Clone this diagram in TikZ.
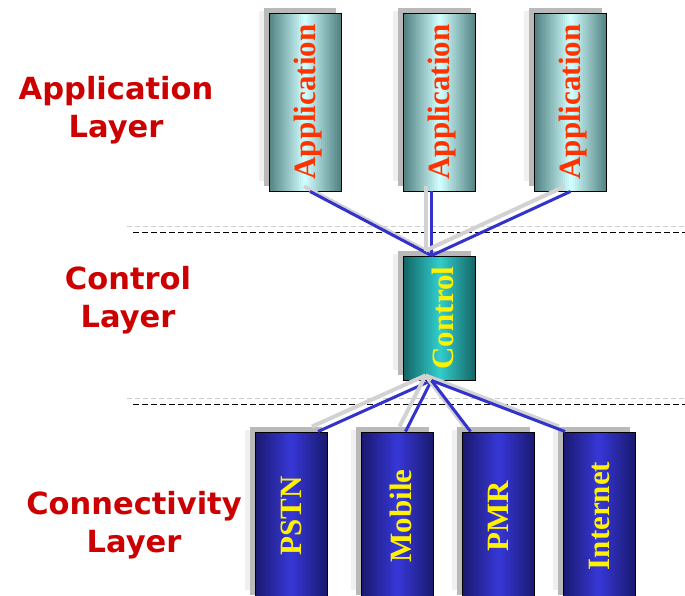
\documentclass[tikz,border=0pt]{standalone}
\usepackage{fontspec}
\setmainfont{Liberation Serif}
\newfontfamily\layerfont{DejaVu Sans}
\usetikzlibrary{positioning,calc,backgrounds}

\definecolor{layerred}{RGB}{204,0,0}
\definecolor{apptext}{RGB}{255,51,0}
\definecolor{linkblue}{RGB}{51,51,204}
\definecolor{appedge}{RGB}{80,128,128}
\definecolor{appmid}{RGB}{210,255,255}
\definecolor{ctrledge}{RGB}{20,100,100}
\definecolor{ctrlmid}{RGB}{50,205,205}
\definecolor{netedge}{RGB}{25,25,110}
\definecolor{netmid}{RGB}{55,55,215}

\tikzset{every picture/.style={line width=0.75pt}}

\begin{document}
\begin{tikzpicture}[x=1pt,y=1pt,yscale=-1,xscale=1,
  gradfill/.style 2 args={path picture={
    \foreach \i in {0,...,35}{
      \pgfmathtruncatemacro\t{abs(2*(\i+0.5)/36-1)*100}
      \fill [#1!\t!#2] ($(path picture bounding box.north west)!{\i/36}!(path picture bounding box.north east)$)
        rectangle ($(path picture bounding box.south west)!{(\i+1.1)/36}!(path picture bounding box.south east)$);
    }}},
  box/.style={draw=black, line width=0.9pt, inner sep=0pt, minimum width=72pt},
  appbox/.style={box, minimum height=178pt, gradfill={appedge}{appmid}},
  ctrlbox/.style={box, minimum height=124pt, gradfill={ctrledge}{ctrlmid}},
  netbox/.style={box, minimum height=168pt, gradfill={netedge}{netmid}},
  boxtext/.style={rotate=90, font=\bfseries\fontsize{31}{31}\selectfont},
  layer/.style={align=center, text=layerred, font=\layerfont\bfseries\fontsize{30.5}{38}\selectfont},
  link/.style={draw=linkblue, line width=3pt},
  linkshadow/.style={draw=gray!35, line width=4pt}]
\useasboundingbox (0,0) rectangle (685,595);
\clip (0,0) rectangle (685,595);

% layer separators
\draw [gray!40, dash pattern=on 5pt off 3pt] (127,226) -- (685,226);
\draw [black, dash pattern=on 6pt off 3pt] (133,232) -- (685,232);
\draw [gray!40, dash pattern=on 5pt off 3pt] (127,398) -- (685,398);
\draw [black, dash pattern=on 6pt off 3pt] (133,404) -- (685,404);

% boxes
\node [appbox] (app1) at (305,102) {};
\node [appbox] (app2) at (439.5,102) {};
\node [appbox] (app3) at (570.5,102) {};
\node [ctrlbox] (control) at (439.5,318) {};
\node [netbox] (pstn) at (291,516) {};
\node [netbox] (mobile) at (397.5,516) {};
\node [netbox] (pmr) at (498.5,516) {};
\node [netbox] (internet) at (599,516) {};

% box shadows
\begin{scope}[on background layer]
\foreach \n in {app1,app2,app3,control,pstn,mobile,pmr,internet}{
  \fill [gray!12] ($(\n.north west)+(-10,-2)$) rectangle ($(\n.south east)+(-10,-10)$);
  \fill [gray!55] ($(\n.north west)+(-5,-5)$) rectangle ($(\n.south east)+(-5,-5)$);
}
\end{scope}

% connection points
\coordinate (a1) at ([xshift=5pt]app1.south);
\coordinate (a2) at ([xshift=-8pt]app2.south);
\coordinate (a3) at (app3.south);
\coordinate (ctop) at ([xshift=-8pt]control.north);
\coordinate (cbot) at ([xshift=-8pt]control.south);
\coordinate (n1) at ([xshift=27pt]pstn.north);
\coordinate (n2) at ([xshift=8pt]mobile.north);
\coordinate (n3) at ([xshift=-28pt]pmr.north);
\coordinate (n4) at ([xshift=-34pt]internet.north);

% links
\foreach \a/\b in {a1/ctop, a2/ctop, a3/ctop, cbot/n1, cbot/n2, cbot/n3, cbot/n4}{
  \draw [linkshadow] ($(\a)+(-6,-5)$) -- ($(\b)+(-6,-5)$);
  \draw [link] (\a) -- (\b);
}

% box texts
\foreach \n in {app1,app2,app3}
  \node [boxtext, text=apptext] at ([xshift=3pt]\n.center) {Application};
\node [boxtext, text=yellow] at ([xshift=3pt]control.center) {Control};
\node [boxtext, text=yellow] at (pstn) {PSTN};
\node [boxtext, text=yellow] at ([xshift=3pt]mobile.center) {Mobile};
\node [boxtext, text=yellow] at (pmr) {PMR};
\node [boxtext, text=yellow] at (internet) {Internet};

% Text Node
\node [layer] (applayer) at (116,110) {Application\\Layer};
\node [layer] (ctrllayer) at (128,300) {Control\\Layer};
\node [layer] (netlayer) at (134,525) {Connectivity\\Layer};

\end{tikzpicture}
\end{document}
